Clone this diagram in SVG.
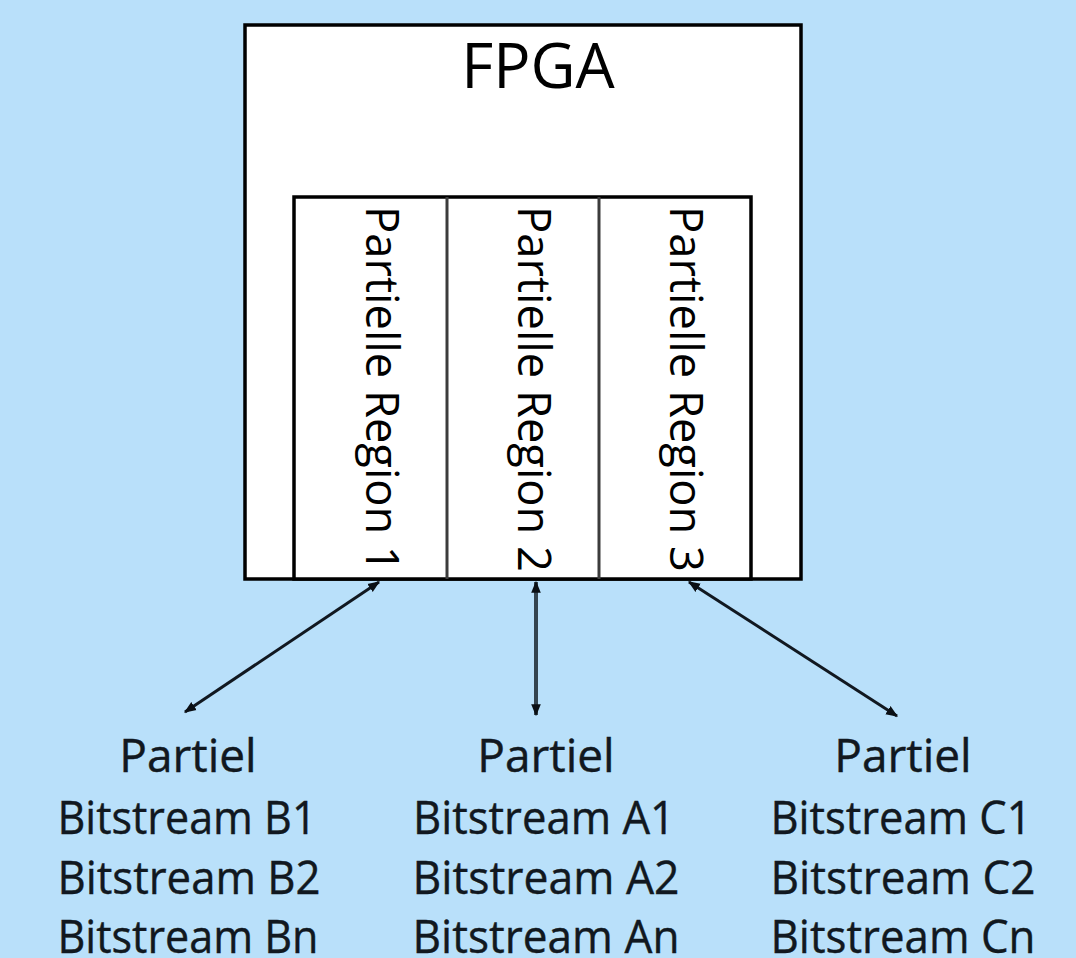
<svg xmlns="http://www.w3.org/2000/svg" width="1076" height="958" viewBox="0 0 1076 958">
  <style>
    .box { fill: #ffffff; stroke: #000000; stroke-width: 3.5; }
    .divider { stroke: #3c3c3c; stroke-width: 3; }
    .title { font-family: "Open Sans", "Liberation Sans", sans-serif; font-size: 62px; fill: #000000; text-anchor: middle; }
    .region { font-family: "Open Sans", "Liberation Sans", sans-serif; font-size: 46px; fill: #000000; text-anchor: middle; }
    .label { font-family: "Open Sans", "Liberation Sans", sans-serif; font-size: 46px; fill: #111820; text-anchor: middle; stroke: #111820; stroke-width: 0.4; }
    .link { stroke: #111820; stroke-width: 3; fill: none; }
    .link-mid { stroke: #34444f; stroke-width: 4; fill: none; }
  </style>
  <defs>
    <marker id="head" viewBox="0 0 10 10" refX="9" refY="5" markerWidth="12" markerHeight="12" markerUnits="userSpaceOnUse" orient="auto-start-reverse">
      <path d="M0,1 L10,5 L0,9 Z" fill="#0a0f14"/>
    </marker>
  </defs>

  <rect x="0" y="0" width="1076" height="958" fill="#b9e0fa"/>

  <!-- FPGA device with its three reconfigurable regions -->
  <g id="fpga">
    <rect class="box" x="245" y="25" width="556" height="554"/>
    <text class="title" x="538" y="88">FPGA</text>
  </g>
  <g id="regions">
    <rect class="box" x="294" y="197" width="457" height="382"/>
    <line class="divider" x1="447" y1="197" x2="447" y2="579"/>
    <line class="divider" x1="599" y1="197" x2="599" y2="579"/>
  </g>
  <g id="region-1">
    <text class="region" x="366" y="389" transform="rotate(90 366 389)" textLength="366" lengthAdjust="spacingAndGlyphs">Partielle Region 1</text>
  </g>
  <g id="region-2">
    <text class="region" x="518" y="389" transform="rotate(90 518 389)" textLength="366" lengthAdjust="spacingAndGlyphs">Partielle Region 2</text>
  </g>
  <g id="region-3">
    <text class="region" x="670" y="389" transform="rotate(90 670 389)" textLength="366" lengthAdjust="spacingAndGlyphs">Partielle Region 3</text>
  </g>

  <!-- Bitstream sets -->
  <g id="bitstreams-b">
    <text class="label" x="188" y="772">Partiel</text>
    <text class="label" x="187" y="834" textLength="259" lengthAdjust="spacingAndGlyphs">Bitstream B1</text>
    <text class="label" x="189" y="894" textLength="263" lengthAdjust="spacingAndGlyphs">Bitstream B2</text>
    <text class="label" x="188" y="953" textLength="261" lengthAdjust="spacingAndGlyphs">Bitstream Bn</text>
  </g>
  <g id="bitstreams-a">
    <text class="label" x="546" y="772">Partiel</text>
    <text class="label" x="544" y="834" textLength="262" lengthAdjust="spacingAndGlyphs">Bitstream A1</text>
    <text class="label" x="546" y="894" textLength="267" lengthAdjust="spacingAndGlyphs">Bitstream A2</text>
    <text class="label" x="546" y="953" textLength="267" lengthAdjust="spacingAndGlyphs">Bitstream An</text>
  </g>
  <g id="bitstreams-c">
    <text class="label" x="903" y="772">Partiel</text>
    <text class="label" x="901" y="834" textLength="261" lengthAdjust="spacingAndGlyphs">Bitstream C1</text>
    <text class="label" x="903" y="894" textLength="265" lengthAdjust="spacingAndGlyphs">Bitstream C2</text>
    <text class="label" x="903" y="953" textLength="265" lengthAdjust="spacingAndGlyphs">Bitstream Cn</text>
  </g>

  <!-- Bidirectional links between regions and bitstream sets -->
  <g id="connectors">
    <line class="link" x1="379" y1="582" x2="185" y2="712" marker-start="url(#head)" marker-end="url(#head)"/>
    <line class="link-mid" x1="536" y1="582" x2="536" y2="715" marker-start="url(#head)" marker-end="url(#head)"/>
    <line class="link" x1="689" y1="582" x2="897" y2="716" marker-start="url(#head)" marker-end="url(#head)"/>
  </g>
</svg>
